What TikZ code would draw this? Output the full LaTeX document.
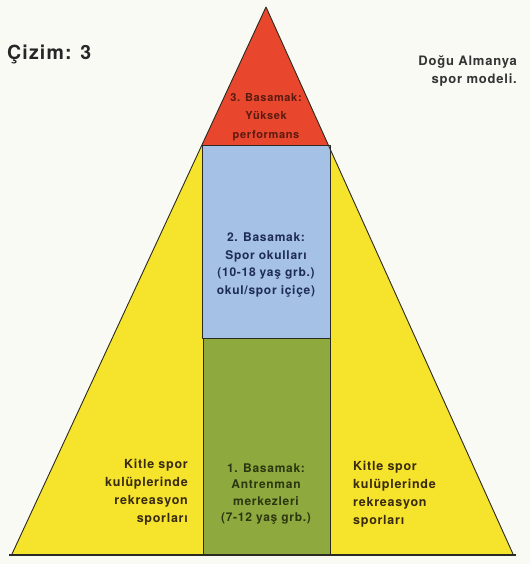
\documentclass[tikz,border=0pt]{standalone}
\usepackage{fontspec}
\setmainfont{TeX Gyre Heros}
\newfontfamily\lblfont[LetterSpace=6, BoldFont={TeX Gyre Heros Bold}]{TeX Gyre Heros}
\definecolor{bgc}{HTML}{FAFAF5}
\definecolor{ylw}{HTML}{F6E42C}
\definecolor{rd}{HTML}{E8472E}
\definecolor{blu}{HTML}{A5C1E6}
\definecolor{grn}{HTML}{8EA93D}
\definecolor{edgec}{HTML}{2A2A22}
\definecolor{txtr}{HTML}{5A1A10}
\definecolor{txtb}{HTML}{1E2B55}
\definecolor{txtg}{HTML}{2C3610}
\definecolor{txty}{HTML}{382A0E}
\begin{document}
\begin{tikzpicture}[x=1pt,y=-1pt]
\tikzset{
  lbl/.style={font=\lblfont\bfseries\fontsize{12}{17.5}\selectfont, align=center, inner sep=0pt},
  sidelbl/.style={font=\lblfont\bfseries\fontsize{12.5}{18}\selectfont, inner sep=0pt, text=txty},
  edge/.style={draw=edgec, line width=0.9pt, line join=round},
  baseline/.style={draw=edgec, line width=1.8pt}
}
\fill[bgc] (0,0) rectangle (530,564);
\useasboundingbox (0,0) rectangle (530,564);
\coordinate (A) at (266,7);
\coordinate (L) at (12,554);
\coordinate (R) at (513,554);
\fill[ylw] (A)--(L)--(R)--cycle;
\begin{scope}
  \clip (0,0) rectangle (530,145);
  \fill[rd] (A)--(L)--(R)--cycle;
\end{scope}
\fill[blu] (203,145) rectangle (330,338);
\fill[grn] (203,338) rectangle (330,554);
\draw[edge] (L)--(A)--(R);
\draw[edge] (202,145) rectangle (330,338);
\draw[edge] (203,338)--(203,554);
\draw[edge] (330,338)--(330,554);
\draw[baseline] (9,555)--(516,555);

\node[anchor=west, inner sep=0pt, font=\lblfont\bfseries\fontsize{19.5}{21}\selectfont, text=black!85] (title) at (7,54) {Çizim: 3};
\node[anchor=east, inner sep=0pt, align=right, font=\lblfont\bfseries\fontsize{13}{18}\selectfont, text=black!80] (caption) at (517,71) {Doğu Almanya\\spor modeli.};

\node[lbl, text=txtr, font=\lblfont\bfseries\fontsize{11}{18.5}\selectfont] (lvl3) at (266,117) {3. Basamak:\\Yüksek\\performans};
\node[lbl, text=txtb] (lvl2) at (266,265) {2. Basamak:\\Spor okulları\\(10-18 yaş grb.)\\okul/spor içiçe)};
\node[lbl, text=txtg, font=\lblfont\bfseries\fontsize{12}{16.5}\selectfont] (lvl1) at (266,494) {1. Basamak:\\Antrenman\\merkezleri\\(7-12 yaş grb.)};
\node[sidelbl, anchor=east, align=right] (leftl) at (188,492) {Kitle spor\\kulüplerinde\\rekreasyon\\sporları};
\node[sidelbl, anchor=west, align=left] (rightl) at (353,494) {Kitle spor\\kulüplerinde\\rekreasyon\\sporları};
\end{tikzpicture}
\end{document}
